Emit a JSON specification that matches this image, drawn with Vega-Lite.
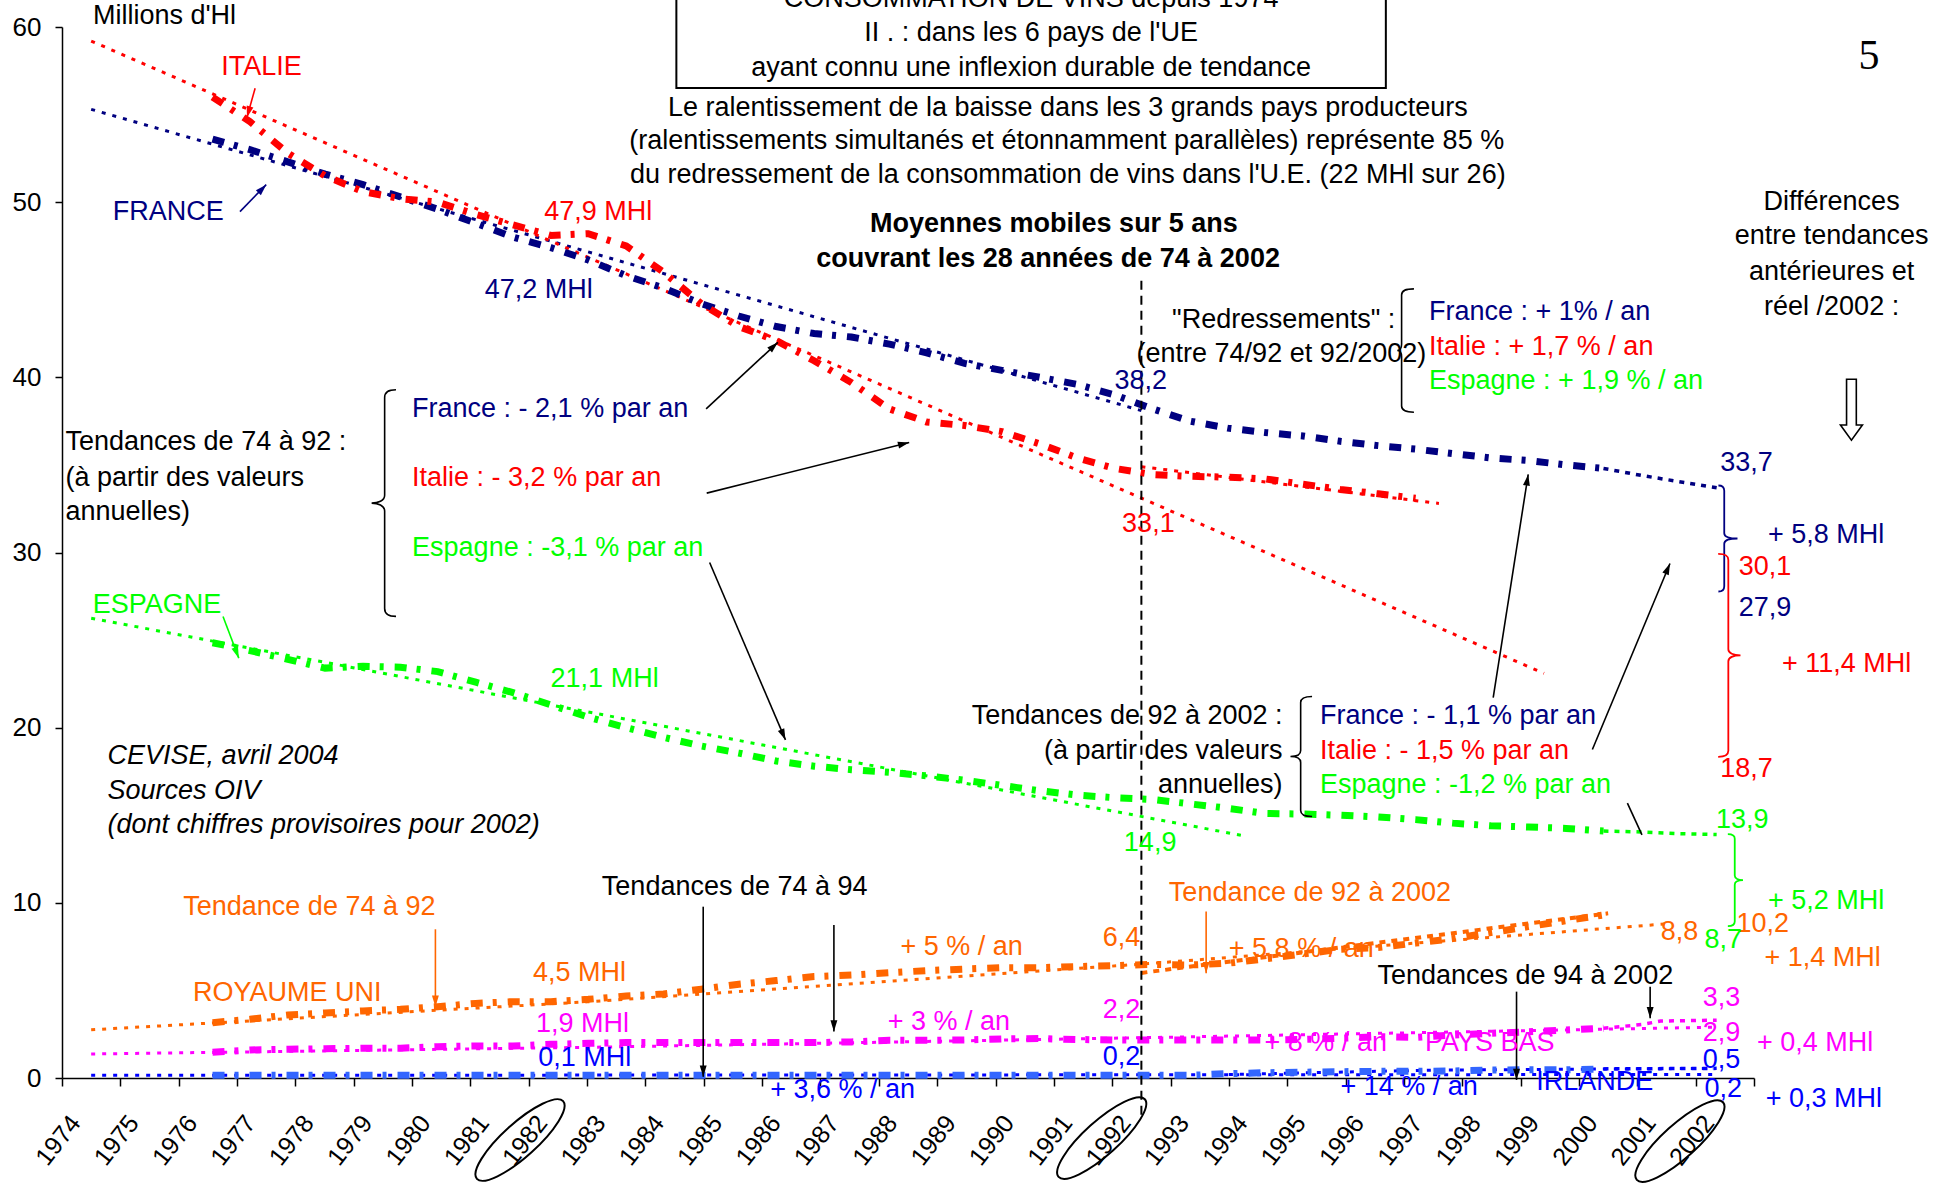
{
"$schema":"https://vega.github.io/schema/vega-lite/v6.json",
"width":1692,"height":1051,
"autosize":{"type":"none"},
"padding":{"left":62,"top":27,"right":189,"bottom":107},
"background":"white",
"config":{"view":{"stroke":null},"font":"Liberation Sans"},
"datasets":{
"ma":[
{"g":"France","t":1976.58,"v":53.6},{"g":"France","t":1977.22,"v":53.0},{"g":"France","t":1977.87,"v":52.3},{"g":"France","t":1978.51,"v":51.6},{"g":"France","t":1979.16,"v":51.0},{"g":"France","t":1979.80,"v":50.3},{"g":"France","t":1980.44,"v":49.6},{"g":"France","t":1981.09,"v":48.8},{"g":"France","t":1981.73,"v":48.0},{"g":"France","t":1982.38,"v":47.4},{"g":"France","t":1983.02,"v":46.7},{"g":"France","t":1983.67,"v":45.8},{"g":"France","t":1984.31,"v":45.1},{"g":"France","t":1984.96,"v":44.2},{"g":"France","t":1985.60,"v":43.5},{"g":"France","t":1986.24,"v":42.9},{"g":"France","t":1986.89,"v":42.5},{"g":"France","t":1987.53,"v":42.3},{"g":"France","t":1988.18,"v":41.9},{"g":"France","t":1988.82,"v":41.4},{"g":"France","t":1989.47,"v":40.8},{"g":"France","t":1990.11,"v":40.4},{"g":"France","t":1990.76,"v":40.0},{"g":"France","t":1991.40,"v":39.6},{"g":"France","t":1992.04,"v":39.0},{"g":"France","t":1992.69,"v":38.2},{"g":"France","t":1993.33,"v":37.5},{"g":"France","t":1993.98,"v":37.1},{"g":"France","t":1994.62,"v":36.85},{"g":"France","t":1995.27,"v":36.65},{"g":"France","t":1995.91,"v":36.35},{"g":"France","t":1996.56,"v":36.1},{"g":"France","t":1997.20,"v":35.9},{"g":"France","t":1997.84,"v":35.65},{"g":"France","t":1998.49,"v":35.4},{"g":"France","t":1999.13,"v":35.25},{"g":"France","t":1999.78,"v":35.0},{"g":"France","t":2000.42,"v":34.8},
{"g":"Italie","t":1976.58,"v":56.0},{"g":"Italie","t":1977.22,"v":54.6},{"g":"Italie","t":1977.87,"v":52.8},{"g":"Italie","t":1978.51,"v":51.5},{"g":"Italie","t":1979.16,"v":50.6},{"g":"Italie","t":1979.80,"v":50.2},{"g":"Italie","t":1980.44,"v":50.0},{"g":"Italie","t":1981.09,"v":49.3},{"g":"Italie","t":1981.73,"v":48.7},{"g":"Italie","t":1982.38,"v":48.1},{"g":"Italie","t":1983.02,"v":48.2},{"g":"Italie","t":1983.67,"v":47.5},{"g":"Italie","t":1984.31,"v":46.0},{"g":"Italie","t":1984.96,"v":44.2},{"g":"Italie","t":1985.60,"v":42.9},{"g":"Italie","t":1986.24,"v":42.1},{"g":"Italie","t":1986.89,"v":40.95},{"g":"Italie","t":1987.53,"v":39.7},{"g":"Italie","t":1988.18,"v":38.2},{"g":"Italie","t":1988.82,"v":37.45},{"g":"Italie","t":1989.47,"v":37.25},{"g":"Italie","t":1990.11,"v":36.9},{"g":"Italie","t":1990.76,"v":36.2},{"g":"Italie","t":1991.40,"v":35.4},{"g":"Italie","t":1992.04,"v":34.8},{"g":"Italie","t":1992.69,"v":34.45},{"g":"Italie","t":1993.33,"v":34.35},{"g":"Italie","t":1993.98,"v":34.3},{"g":"Italie","t":1994.62,"v":34.2},{"g":"Italie","t":1995.27,"v":33.9},{"g":"Italie","t":1995.91,"v":33.6},{"g":"Italie","t":1996.56,"v":33.35},{"g":"Italie","t":1997.20,"v":33.1},
{"g":"Espagne","t":1976.58,"v":24.85},{"g":"Espagne","t":1977.22,"v":24.4},{"g":"Espagne","t":1977.87,"v":23.9},{"g":"Espagne","t":1978.51,"v":23.4},{"g":"Espagne","t":1979.16,"v":23.5},{"g":"Espagne","t":1979.80,"v":23.45},{"g":"Espagne","t":1980.44,"v":23.2},{"g":"Espagne","t":1981.09,"v":22.6},{"g":"Espagne","t":1981.73,"v":22.0},{"g":"Espagne","t":1982.38,"v":21.3},{"g":"Espagne","t":1983.02,"v":20.6},{"g":"Espagne","t":1983.67,"v":20.0},{"g":"Espagne","t":1984.31,"v":19.45},{"g":"Espagne","t":1984.96,"v":18.95},{"g":"Espagne","t":1985.60,"v":18.55},{"g":"Espagne","t":1986.24,"v":18.1},{"g":"Espagne","t":1986.89,"v":17.8},{"g":"Espagne","t":1987.53,"v":17.6},{"g":"Espagne","t":1988.18,"v":17.45},{"g":"Espagne","t":1988.82,"v":17.25},{"g":"Espagne","t":1989.47,"v":17.0},{"g":"Espagne","t":1990.11,"v":16.7},{"g":"Espagne","t":1990.76,"v":16.4},{"g":"Espagne","t":1991.40,"v":16.15},{"g":"Espagne","t":1992.04,"v":16.0},{"g":"Espagne","t":1992.69,"v":15.9},{"g":"Espagne","t":1993.33,"v":15.65},{"g":"Espagne","t":1993.98,"v":15.4},{"g":"Espagne","t":1994.62,"v":15.1},{"g":"Espagne","t":1995.27,"v":15.07},{"g":"Espagne","t":1995.91,"v":15.0},{"g":"Espagne","t":1996.56,"v":14.9},{"g":"Espagne","t":1997.20,"v":14.75},{"g":"Espagne","t":1997.84,"v":14.55},{"g":"Espagne","t":1998.49,"v":14.4},{"g":"Espagne","t":1999.13,"v":14.33},{"g":"Espagne","t":1999.78,"v":14.25},{"g":"Espagne","t":2000.42,"v":14.1},
{"g":"RoyaumeUni","t":1976.58,"v":3.16},{"g":"RoyaumeUni","t":1977.22,"v":3.35},{"g":"RoyaumeUni","t":1977.87,"v":3.6},{"g":"RoyaumeUni","t":1978.51,"v":3.71},{"g":"RoyaumeUni","t":1979.16,"v":3.83},{"g":"RoyaumeUni","t":1979.80,"v":3.92},{"g":"RoyaumeUni","t":1980.44,"v":4.07},{"g":"RoyaumeUni","t":1981.09,"v":4.26},{"g":"RoyaumeUni","t":1981.73,"v":4.36},{"g":"RoyaumeUni","t":1982.38,"v":4.36},{"g":"RoyaumeUni","t":1983.02,"v":4.49},{"g":"RoyaumeUni","t":1983.67,"v":4.68},{"g":"RoyaumeUni","t":1984.31,"v":4.8},{"g":"RoyaumeUni","t":1984.96,"v":5.07},{"g":"RoyaumeUni","t":1985.60,"v":5.35},{"g":"RoyaumeUni","t":1986.24,"v":5.56},{"g":"RoyaumeUni","t":1986.89,"v":5.79},{"g":"RoyaumeUni","t":1987.53,"v":5.88},{"g":"RoyaumeUni","t":1988.18,"v":6.01},{"g":"RoyaumeUni","t":1988.82,"v":6.13},{"g":"RoyaumeUni","t":1989.47,"v":6.22},{"g":"RoyaumeUni","t":1990.11,"v":6.3},{"g":"RoyaumeUni","t":1990.76,"v":6.3},{"g":"RoyaumeUni","t":1991.40,"v":6.36},{"g":"RoyaumeUni","t":1992.04,"v":6.41},{"g":"RoyaumeUni","t":1992.69,"v":6.49},{"g":"RoyaumeUni","t":1993.33,"v":6.45},{"g":"RoyaumeUni","t":1993.98,"v":6.55},{"g":"RoyaumeUni","t":1994.62,"v":6.8},{"g":"RoyaumeUni","t":1995.27,"v":7.08},{"g":"RoyaumeUni","t":1995.91,"v":7.35},{"g":"RoyaumeUni","t":1996.56,"v":7.45},{"g":"RoyaumeUni","t":1997.20,"v":7.7},{"g":"RoyaumeUni","t":1997.84,"v":7.96},{"g":"RoyaumeUni","t":1998.49,"v":8.3},{"g":"RoyaumeUni","t":1999.13,"v":8.64},{"g":"RoyaumeUni","t":1999.78,"v":8.98},{"g":"RoyaumeUni","t":2000.42,"v":9.31},
{"g":"PaysBas","t":1976.58,"v":1.47},{"g":"PaysBas","t":1977.22,"v":1.6},{"g":"PaysBas","t":1977.87,"v":1.64},{"g":"PaysBas","t":1978.51,"v":1.67},{"g":"PaysBas","t":1979.16,"v":1.7},{"g":"PaysBas","t":1979.80,"v":1.7},{"g":"PaysBas","t":1980.44,"v":1.79},{"g":"PaysBas","t":1981.09,"v":1.83},{"g":"PaysBas","t":1981.73,"v":1.83},{"g":"PaysBas","t":1982.38,"v":1.92},{"g":"PaysBas","t":1983.02,"v":1.98},{"g":"PaysBas","t":1983.67,"v":2.02},{"g":"PaysBas","t":1984.31,"v":2.02},{"g":"PaysBas","t":1984.96,"v":2.02},{"g":"PaysBas","t":1985.60,"v":2.02},{"g":"PaysBas","t":1986.24,"v":2.02},{"g":"PaysBas","t":1986.89,"v":2.02},{"g":"PaysBas","t":1987.53,"v":2.06},{"g":"PaysBas","t":1988.18,"v":2.15},{"g":"PaysBas","t":1988.82,"v":2.15},{"g":"PaysBas","t":1989.47,"v":2.17},{"g":"PaysBas","t":1990.11,"v":2.23},{"g":"PaysBas","t":1990.76,"v":2.25},{"g":"PaysBas","t":1991.40,"v":2.2},{"g":"PaysBas","t":1992.04,"v":2.17},{"g":"PaysBas","t":1992.69,"v":2.17},{"g":"PaysBas","t":1993.33,"v":2.17},{"g":"PaysBas","t":1993.98,"v":2.17},{"g":"PaysBas","t":1994.62,"v":2.17},{"g":"PaysBas","t":1995.27,"v":2.2},{"g":"PaysBas","t":1995.91,"v":2.27},{"g":"PaysBas","t":1996.56,"v":2.36},{"g":"PaysBas","t":1997.20,"v":2.32},{"g":"PaysBas","t":1997.84,"v":2.45},{"g":"PaysBas","t":1998.49,"v":2.55},{"g":"PaysBas","t":1999.13,"v":2.64},{"g":"PaysBas","t":1999.78,"v":2.74},{"g":"PaysBas","t":2000.42,"v":2.84},
{"g":"IrlandeMM","t":1976.58,"v":0.15},{"g":"IrlandeMM","t":1977.22,"v":0.15},{"g":"IrlandeMM","t":1977.87,"v":0.15},{"g":"IrlandeMM","t":1978.51,"v":0.15},{"g":"IrlandeMM","t":1979.16,"v":0.15},{"g":"IrlandeMM","t":1979.80,"v":0.15},{"g":"IrlandeMM","t":1980.44,"v":0.15},{"g":"IrlandeMM","t":1981.09,"v":0.15},{"g":"IrlandeMM","t":1981.73,"v":0.15},{"g":"IrlandeMM","t":1982.38,"v":0.15},{"g":"IrlandeMM","t":1983.02,"v":0.15},{"g":"IrlandeMM","t":1983.67,"v":0.15},{"g":"IrlandeMM","t":1984.31,"v":0.15},{"g":"IrlandeMM","t":1984.96,"v":0.15},{"g":"IrlandeMM","t":1985.60,"v":0.15},{"g":"IrlandeMM","t":1986.24,"v":0.15},{"g":"IrlandeMM","t":1986.89,"v":0.15},{"g":"IrlandeMM","t":1987.53,"v":0.15},{"g":"IrlandeMM","t":1988.18,"v":0.15},{"g":"IrlandeMM","t":1988.82,"v":0.15},{"g":"IrlandeMM","t":1989.47,"v":0.15},{"g":"IrlandeMM","t":1990.11,"v":0.15},{"g":"IrlandeMM","t":1990.76,"v":0.15},{"g":"IrlandeMM","t":1991.40,"v":0.15},{"g":"IrlandeMM","t":1992.04,"v":0.15},{"g":"IrlandeMM","t":1992.69,"v":0.15},{"g":"IrlandeMM","t":1993.33,"v":0.15},{"g":"IrlandeMM","t":1993.98,"v":0.25},{"g":"IrlandeMM","t":1994.62,"v":0.3},{"g":"IrlandeMM","t":1995.27,"v":0.33},{"g":"IrlandeMM","t":1995.91,"v":0.36},{"g":"IrlandeMM","t":1996.56,"v":0.38},{"g":"IrlandeMM","t":1997.20,"v":0.38},{"g":"IrlandeMM","t":1997.84,"v":0.4},{"g":"IrlandeMM","t":1998.49,"v":0.45},{"g":"IrlandeMM","t":1999.13,"v":0.47},{"g":"IrlandeMM","t":1999.78,"v":0.47},{"g":"IrlandeMM","t":2000.42,"v":0.52}
],
"tail":[
{"g":"France","t":2000.42,"v":34.8},{"g":"France","t":2001.07,"v":34.4},{"g":"France","t":2001.71,"v":34.05},{"g":"France","t":2002.36,"v":33.7},
{"g":"Espagne","t":2000.42,"v":14.1},{"g":"Espagne","t":2001.07,"v":14.05},{"g":"Espagne","t":2001.71,"v":13.95},{"g":"Espagne","t":2002.36,"v":13.9},
{"g":"PaysBas","t":2000.42,"v":2.84},{"g":"PaysBas","t":2001.07,"v":3.05},{"g":"PaysBas","t":2001.4,"v":3.25},{"g":"PaysBas","t":2002.36,"v":3.3},
{"g":"Irlande","t":2000.42,"v":0.52},{"g":"Irlande","t":2002.36,"v":0.55}
],
"trend":[
{"id":"F74","g":"France","t":1974.5,"v":55.3},{"id":"F74","g":"France","t":1992.5,"v":38.1},
{"id":"I74","g":"Italie","t":1974.5,"v":59.2},{"id":"I74","g":"Italie","t":1999.4,"v":23.1},
{"id":"E74","g":"Espagne","t":1974.5,"v":26.25},{"id":"E74","g":"Espagne","t":1994.3,"v":13.8},
{"id":"U74","g":"RoyaumeUni","t":1974.5,"v":2.75},{"id":"U74","g":"RoyaumeUni","t":1983,"v":4.35},{"id":"U74","g":"RoyaumeUni","t":1992.5,"v":6.5},{"id":"U74","g":"RoyaumeUni","t":2001.5,"v":8.8},
{"id":"N74","g":"PaysBas","t":1974.5,"v":1.37},{"id":"N74","g":"PaysBas","t":1983,"v":1.75},{"id":"N74","g":"PaysBas","t":1992.5,"v":2.3},{"id":"N74","g":"PaysBas","t":2002.3,"v":2.9},
{"id":"R74","g":"Irlande","t":1974.5,"v":0.15},{"id":"R74","g":"Irlande","t":2002.3,"v":0.2},
{"id":"I92","g":"Italie","t":1992.5,"v":34.9},{"id":"I92","g":"Italie","t":1997.6,"v":32.8},
{"id":"R94","g":"Irlande","t":1994,"v":0.2},{"id":"R94","g":"Irlande","t":1997.5,"v":0.45},{"id":"R94","g":"Irlande","t":2002.3,"v":0.55}
],
"trend2":[
{"g":"RoyaumeUni","t":1992.5,"v":6.0},{"g":"RoyaumeUni","t":2000.5,"v":9.4}
],
"arrows":[
{"id":"a","g":"Italie","t":1977.31,"v":56.5,"t2":1977.17,"v2":54.84},
{"id":"b","g":"France","t":1977.05,"v":49.46,"t2":1977.5,"v2":51.0},
{"id":"c","g":"Espagne","t":1976.76,"v":26.35,"t2":1977.03,"v2":23.97},
{"id":"d","g":"Noir","t":1985.04,"v":38.2,"t2":1986.27,"v2":42.0},
{"id":"e","g":"Noir","t":1985.05,"v":33.39,"t2":1988.52,"v2":36.28},
{"id":"f","g":"Noir","t":1985.1,"v":29.43,"t2":1986.4,"v2":19.3},
{"id":"g","g":"Noir","t":1998.53,"v":21.72,"t2":1999.13,"v2":34.46},
{"id":"h","g":"Noir","t":2000.23,"v":18.75,"t2":2001.56,"v2":29.37},
{"id":"down","g":"RoyaumeUni","t":1980.4,"v":8.49,"t2":1980.4,"v2":4.07},
{"id":"down","g":"Noir","t":1984.99,"v":9.78,"t2":1984.99,"v2":0.07},
{"id":"down","g":"Noir","t":1987.23,"v":8.74,"t2":1987.23,"v2":2.65},
{"id":"down","g":"RoyaumeUni","t":1993.61,"v":9.5,"t2":1993.61,"v2":5.98},
{"id":"down","g":"Noir","t":1998.93,"v":4.93,"t2":1998.93,"v2":-0.11},
{"id":"down","g":"Noir","t":2001.22,"v":5.21,"t2":2001.22,"v2":3.41},
{"id":"nohead","g":"Noir","t":2000.83,"v":15.69,"t2":2001.08,"v2":13.88}
],
"tl":[
{"g":"Noir","s":"Millions d'Hl","t":1974.53,"v":60.6},
{"g":"Noir","s":"Tendances de 74 à 92 :","t":1974.06,"v":36.3},
{"g":"Noir","s":"(à partir des valeurs","t":1974.06,"v":34.24},
{"g":"Noir","s":"annuelles)","t":1974.06,"v":32.34},
{"g":"France","s":"France : - 2,1 % par an","t":1980.0,"v":38.2},
{"g":"Italie","s":"Italie : - 3,2 % par an","t":1980.0,"v":34.25},
{"g":"Espagne","s":"Espagne : -3,1 % par an","t":1980.0,"v":30.28},
{"g":"France","s":"France : + 1% / an","t":1997.43,"v":43.73},
{"g":"Italie","s":"Italie : + 1,7 % / an","t":1997.43,"v":41.75},
{"g":"Espagne","s":"Espagne : + 1,9 % / an","t":1997.43,"v":39.77},
{"g":"France","s":"France : - 1,1 % par an","t":1995.56,"v":20.66},
{"g":"Italie","s":"Italie :  - 1,5 % par an","t":1995.56,"v":18.68},
{"g":"Espagne","s":"Espagne : -1,2 % par an","t":1995.56,"v":16.7},
{"g":"France","s":"33,7","t":2002.42,"v":35.1},
{"g":"France","s":"+ 5,8 MHl","t":2003.24,"v":31.0},
{"g":"Italie","s":"30,1","t":2002.74,"v":29.15},
{"g":"France","s":"27,9","t":2002.74,"v":26.82},
{"g":"Italie","s":"+ 11,4 MHl","t":2003.48,"v":23.63},
{"g":"Italie","s":"18,7","t":2002.42,"v":17.62},
{"g":"Espagne","s":"13,9","t":2002.35,"v":14.72},
{"g":"Espagne","s":"+ 5,2 MHl","t":2003.24,"v":10.1},
{"g":"RoyaumeUni","s":"10,2","t":2002.7,"v":8.8},
{"g":"RoyaumeUni","s":"8,8","t":2001.4,"v":8.34},
{"g":"Espagne","s":"8,7","t":2002.15,"v":7.85},
{"g":"RoyaumeUni","s":"+ 1,4 MHl","t":2003.18,"v":6.85},
{"g":"PaysBas","s":"3,3","t":2002.12,"v":4.59},
{"g":"PaysBas","s":"2,9","t":2002.12,"v":2.55},
{"g":"PaysBas","s":"+ 0,4 MHl","t":2003.05,"v":1.98},
{"g":"Irlande","s":"0,5","t":2002.12,"v":1.0},
{"g":"Irlande","s":"0,2","t":2002.15,"v":-0.64},
{"g":"Irlande","s":"+ 0,3 MHl","t":2003.2,"v":-1.2}
],
"tr":[
{"g":"Noir","s":"Tendances de 92 à 2002 :","t":1994.92,"v":20.66},
{"g":"Noir","s":"(à partir des valeurs","t":1994.92,"v":18.68},
{"g":"Noir","s":"annuelles)","t":1994.92,"v":16.7}
],
"tc":[
{"g":"Noir","s":"CONSOMMATION DE VINS depuis 1974","t":1990.61,"v":61.6},
{"g":"Noir","s":"II . : dans les 6 pays de l'UE","t":1990.61,"v":59.66},
{"g":"Noir","s":"ayant connu une inflexion durable de tendance","t":1990.61,"v":57.66},
{"g":"Noir","s":"Le ralentissement de la baisse dans les 3 grands pays producteurs","t":1991.24,"v":55.38},
{"g":"Noir","s":"(ralentissements simultanés et étonnamment parallèles) représente 85 %","t":1991.22,"v":53.47},
{"g":"Noir","s":"du redressement de la consommation de vins dans l'U.E. (22 MHl sur 26)","t":1991.24,"v":51.57},
{"g":"Noir","s":"Différences","t":2004.33,"v":50.03},
{"g":"Noir","s":"entre tendances","t":2004.33,"v":48.05},
{"g":"Noir","s":"antérieures et","t":2004.33,"v":46.0},
{"g":"Noir","s":"réel /2002 :","t":2004.33,"v":44.0},
{"g":"Italie","s":"ITALIE","t":1977.42,"v":57.74},
{"g":"France","s":"FRANCE","t":1975.82,"v":49.46},
{"g":"Espagne","s":"ESPAGNE","t":1975.63,"v":27.03},
{"g":"Italie","s":"47,9 MHl","t":1983.19,"v":49.46},
{"g":"France","s":"47,2 MHl","t":1982.17,"v":45.0},
{"g":"Espagne","s":"21,1 MHl","t":1983.3,"v":22.79},
{"g":"Noir","s":"\"Redressements\" :","t":1994.94,"v":43.3},
{"g":"Noir","s":"(entre 74/92 et 92/2002)","t":1994.9,"v":41.33},
{"g":"France","s":"38,2","t":1992.49,"v":39.77},
{"g":"Italie","s":"33,1","t":1992.62,"v":31.63},
{"g":"Espagne","s":"14,9","t":1992.65,"v":13.44},
{"g":"RoyaumeUni","s":"6,4","t":1992.16,"v":8.0},
{"g":"PaysBas","s":"2,2","t":1992.16,"v":3.88},
{"g":"Irlande","s":"0,2","t":1992.16,"v":1.2},
{"g":"RoyaumeUni","s":"Tendance de 74 à 92","t":1978.24,"v":9.77},
{"g":"RoyaumeUni","s":"ROYAUME UNI","t":1977.86,"v":4.88},
{"g":"RoyaumeUni","s":"4,5 MHl","t":1982.87,"v":6.0},
{"g":"PaysBas","s":"1,9 MHl","t":1982.92,"v":3.1},
{"g":"Irlande","s":"0,1 MHl","t":1982.96,"v":1.14},
{"g":"Noir","s":"Tendances de 74 à 94","t":1985.53,"v":10.89},
{"g":"RoyaumeUni","s":"+ 5 % / an","t":1989.42,"v":7.5},
{"g":"PaysBas","s":"+ 3 % / an","t":1989.2,"v":3.18},
{"g":"Irlande","s":"+ 3,6 % / an","t":1987.38,"v":-0.71},
{"g":"RoyaumeUni","s":"Tendance de 92 à 2002","t":1995.39,"v":10.54},
{"g":"RoyaumeUni","s":"+ 5,8 % / an","t":1995.24,"v":7.36},
{"g":"Noir","s":"Tendances de 94 à 2002","t":1999.08,"v":5.8},
{"g":"PaysBas","s":"+ 8 % / an","t":1995.66,"v":1.98},
{"g":"PaysBas","s":"PAYS BAS","t":1998.47,"v":1.98},
{"g":"Irlande","s":"+ 14 % / an","t":1997.09,"v":-0.5},
{"g":"Irlande","s":"IRLANDE","t":2000.27,"v":-0.22}
],
"tb":[
{"g":"Noir","s":"Moyennes mobiles sur 5 ans","t":1991.0,"v":48.75},
{"g":"Noir","s":"couvrant les 28 années de 74 à 2002","t":1990.9,"v":46.77}
],
"ti":[
{"g":"Noir","s":"CEVISE, avril 2004","t":1974.78,"v":18.39},
{"g":"Noir","s":"Sources OIV","t":1974.78,"v":16.41},
{"g":"Noir","s":"(dont chiffres provisoires pour 2002)","t":1974.78,"v":14.43}
]
},
"layer":[
{"data":{"name":"trend"},
 "mark":{"type":"line","strokeWidth":3,"strokeDash":[4,7],"strokeCap":"butt"},
 "encoding":{
  "x":{"field":"t","type":"quantitative","scale":{"domain":[1974,2003],"nice":false,"zero":false},
   "axis":{"values":[1974,1975,1976,1977,1978,1979,1980,1981,1982,1983,1984,1985,1986,1987,1988,1989,1990,1991,1992,1993,1994,1995,1996,1997,1998,1999,2000,2001,2002,2003],
    "format":"d","labelExpr":"datum.value > 2002 ? '' : datum.label","labelAngle":-52,"labelAlign":"right","labelBaseline":"middle",
    "labelPadding":32,"labelOffset":13,"labelFontSize":25,"labelFont":"Liberation Sans","labelColor":"black","labelFlush":false,"labelOverlap":false,"labelBound":false,
    "tickSize":8,"tickColor":"black","tickWidth":1.5,"domainColor":"black","domainWidth":1.5,"title":null,"grid":false}},
  "y":{"field":"v","type":"quantitative","scale":{"domain":[0,60],"nice":false,"zero":false},
   "axis":{"values":[0,10,20,30,40,50,60],"labelFontSize":26,"labelFont":"Liberation Sans","labelColor":"black","labelPadding":14,"tickSize":7,"tickColor":"black","tickWidth":1.5,"domainColor":"black","domainWidth":1.5,"title":null,"grid":false,"labelFlush":false}},
  "color":{"field":"g","type":"nominal","scale":{"domain":["France","Italie","Espagne","RoyaumeUni","PaysBas","Irlande","IrlandeMM","Noir"],"range":["#000080","#FF0000","#00FF00","#FF6600","#FF00FF","#0000FF","#3366FF","#000000"]},"legend":null},
  "detail":{"field":"id","type":"nominal"}}},
{"data":{"name":"trend2"},
 "mark":{"type":"line","strokeWidth":4,"strokeDash":[6,6],"strokeCap":"butt"},
 "encoding":{
  "x":{"field":"t","type":"quantitative"},
  "y":{"field":"v","type":"quantitative"},
  "color":{"field":"g","type":"nominal","legend":null}}},
{"data":{"name":"ma"},
 "mark":{"type":"line","strokeWidth":7,"strokeDash":[12,10,4,11],"strokeCap":"butt"},
 "encoding":{
  "x":{"field":"t","type":"quantitative"},
  "y":{"field":"v","type":"quantitative"},
  "color":{"field":"g","type":"nominal","legend":null}}},
{"data":{"name":"tail"},
 "mark":{"type":"line","strokeWidth":3.5,"strokeDash":[5,6],"strokeCap":"butt"},
 "encoding":{
  "x":{"field":"t","type":"quantitative"},
  "y":{"field":"v","type":"quantitative"},
  "color":{"field":"g","type":"nominal","legend":null}}},
{"data":{"values":[{"t":1992.5,"v":-2.1,"v2":45.6}]},
 "mark":{"type":"rule","color":"black","strokeWidth":2,"strokeDash":[9,6]},
 "encoding":{
  "x":{"field":"t","type":"quantitative"},
  "y":{"field":"v","type":"quantitative"},
  "y2":{"field":"v2"}}},
{"data":{"values":[{"t":1984.53,"t2":1996.69,"v":56.52,"v2":63}]},
 "mark":{"type":"rect","fill":"transparent","stroke":"black","strokeWidth":2},
 "encoding":{
  "x":{"field":"t","type":"quantitative"},
  "x2":{"field":"t2"},
  "y":{"field":"v","type":"quantitative"},
  "y2":{"field":"v2"}}},
{"data":{"name":"arrows"},
 "mark":{"type":"rule","strokeWidth":1.6},
 "encoding":{
  "x":{"field":"t","type":"quantitative"},
  "y":{"field":"v","type":"quantitative"},
  "x2":{"field":"t2"},"y2":{"field":"v2"},
  "color":{"field":"g","type":"nominal","legend":null}}},
{"data":{"name":"arrows"},"transform":[{"filter":"datum.id == 'down'"}],
 "mark":{"type":"point","shape":"M0,0L0.4,1.3L-0.4,1.3Z","filled":true,"opacity":1,"size":300,"angle":180},
 "encoding":{"x":{"field":"t2","type":"quantitative"},"y":{"field":"v2","type":"quantitative"},"color":{"field":"g","type":"nominal","legend":null}}},
{"data":{"name":"arrows"},"transform":[{"filter":"datum.id == 'a'"}],
 "mark":{"type":"point","shape":"M0,0L0.4,1.3L-0.4,1.3Z","filled":true,"opacity":1,"size":300,"angle":196},
 "encoding":{"x":{"field":"t2","type":"quantitative"},"y":{"field":"v2","type":"quantitative"},"color":{"field":"g","type":"nominal","legend":null}}},
{"data":{"name":"arrows"},"transform":[{"filter":"datum.id == 'b'"}],
 "mark":{"type":"point","shape":"M0,0L0.4,1.3L-0.4,1.3Z","filled":true,"opacity":1,"size":300,"angle":44},
 "encoding":{"x":{"field":"t2","type":"quantitative"},"y":{"field":"v2","type":"quantitative"},"color":{"field":"g","type":"nominal","legend":null}}},
{"data":{"name":"arrows"},"transform":[{"filter":"datum.id == 'c'"}],
 "mark":{"type":"point","shape":"M0,0L0.4,1.3L-0.4,1.3Z","filled":true,"opacity":1,"size":300,"angle":159},
 "encoding":{"x":{"field":"t2","type":"quantitative"},"y":{"field":"v2","type":"quantitative"},"color":{"field":"g","type":"nominal","legend":null}}},
{"data":{"name":"arrows"},"transform":[{"filter":"datum.id == 'd'"}],
 "mark":{"type":"point","shape":"M0,0L0.4,1.3L-0.4,1.3Z","filled":true,"opacity":1,"size":300,"angle":47},
 "encoding":{"x":{"field":"t2","type":"quantitative"},"y":{"field":"v2","type":"quantitative"},"color":{"field":"g","type":"nominal","legend":null}}},
{"data":{"name":"arrows"},"transform":[{"filter":"datum.id == 'e'"}],
 "mark":{"type":"point","shape":"M0,0L0.4,1.3L-0.4,1.3Z","filled":true,"opacity":1,"size":300,"angle":76},
 "encoding":{"x":{"field":"t2","type":"quantitative"},"y":{"field":"v2","type":"quantitative"},"color":{"field":"g","type":"nominal","legend":null}}},
{"data":{"name":"arrows"},"transform":[{"filter":"datum.id == 'f'"}],
 "mark":{"type":"point","shape":"M0,0L0.4,1.3L-0.4,1.3Z","filled":true,"opacity":1,"size":300,"angle":157},
 "encoding":{"x":{"field":"t2","type":"quantitative"},"y":{"field":"v2","type":"quantitative"},"color":{"field":"g","type":"nominal","legend":null}}},
{"data":{"name":"arrows"},"transform":[{"filter":"datum.id == 'g'"}],
 "mark":{"type":"point","shape":"M0,0L0.4,1.3L-0.4,1.3Z","filled":true,"opacity":1,"size":300,"angle":9},
 "encoding":{"x":{"field":"t2","type":"quantitative"},"y":{"field":"v2","type":"quantitative"},"color":{"field":"g","type":"nominal","legend":null}}},
{"data":{"name":"arrows"},"transform":[{"filter":"datum.id == 'h'"}],
 "mark":{"type":"point","shape":"M0,0L0.4,1.3L-0.4,1.3Z","filled":true,"opacity":1,"size":300,"angle":23},
 "encoding":{"x":{"field":"t2","type":"quantitative"},"y":{"field":"v2","type":"quantitative"},"color":{"field":"g","type":"nominal","legend":null}}},
{"data":{"values":[{"t":1979.53,"v":32.82}]},
 "mark":{"type":"point","shape":"M0.1,-1C0.03,-1 0,-0.98 0,-0.93L0,-0.07C0,-0.02 -0.06,0 -0.115,0C-0.06,0 0,0.02 0,0.07L0,0.93C0,0.98 0.03,1 0.1,1","filled":false,"size":51347,"color":"black","strokeWidth":1.6,"opacity":1},
 "encoding":{"x":{"field":"t","type":"quantitative"},"y":{"field":"v","type":"quantitative"}}},
{"data":{"values":[{"t":1996.96,"v":41.53}]},
 "mark":{"type":"point","shape":"M0.2,-1C0.06,-1 0,-0.97 0,-0.9L0,-0.1C0,-0.03 -0.03,0 -0.07,0C-0.03,0 0,0.03 0,0.1L0,0.9C0,0.97 0.06,1 0.2,1","filled":false,"size":15228,"color":"black","strokeWidth":1.6,"opacity":1},
 "encoding":{"x":{"field":"t","type":"quantitative"},"y":{"field":"v","type":"quantitative"}}},
{"data":{"values":[{"t":1995.23,"v":18.35}]},
 "mark":{"type":"point","shape":"M0.19,-1C0.06,-1 0,-0.97 0,-0.9L0,-0.1C0,-0.03 -0.07,0 -0.17,0C-0.07,0 0,0.03 0,0.1L0,0.9C0,0.97 0.06,1 0.19,1","filled":false,"size":14400,"color":"black","strokeWidth":1.6,"opacity":1},
 "encoding":{"x":{"field":"t","type":"quantitative"},"y":{"field":"v","type":"quantitative"}}},
{"data":{"values":[{"t":2002.49,"v":30.8}]},
 "mark":{"type":"point","shape":"M-0.11,-1C-0.04,-1 0,-0.97 0,-0.9L0,-0.1C0,-0.03 0.1,0 0.25,0C0.1,0 0,0.03 0,0.1L0,0.9C0,0.97 -0.04,1 -0.11,1","filled":false,"size":11236,"color":"#000080","strokeWidth":1.8,"opacity":1},
 "encoding":{"x":{"field":"t","type":"quantitative"},"y":{"field":"v","type":"quantitative"}}},
{"data":{"values":[{"t":2002.56,"v":24.13}]},
 "mark":{"type":"point","shape":"M-0.1,-1C-0.03,-1 0,-0.98 0,-0.94L0,-0.06C0,-0.02 0.05,0 0.12,0C0.05,0 0,0.02 0,0.06L0,0.94C0,0.98 -0.03,1 -0.1,1","filled":false,"size":41209,"color":"#FF0000","strokeWidth":1.8,"opacity":1},
 "encoding":{"x":{"field":"t","type":"quantitative"},"y":{"field":"v","type":"quantitative"}}},
{"data":{"values":[{"t":2002.67,"v":11.3}]},
 "mark":{"type":"point","shape":"M-0.15,-1C-0.05,-1 0,-0.97 0,-0.9L0,-0.1C0,-0.03 0.08,0 0.18,0C0.08,0 0,0.03 0,0.1L0,0.9C0,0.97 -0.05,1 -0.15,1","filled":false,"size":8464,"color":"#00FF00","strokeWidth":1.8,"opacity":1},
 "encoding":{"x":{"field":"t","type":"quantitative"},"y":{"field":"v","type":"quantitative"}}},
{"data":{"values":[{"t":1981.85,"v":-3.54},{"t":1991.82,"v":-3.43},{"t":2001.73,"v":-3.6}]},
 "mark":{"type":"point","shape":"M1,0C1,0.16 0.552,0.29 0,0.29C-0.552,0.29 -1,0.16 -1,0C-1,-0.16 -0.552,-0.29 0,-0.29C0.552,-0.29 1,-0.16 1,0Z","filled":false,"size":13456,"angle":-42,"color":"black","strokeWidth":2,"opacity":1},
 "encoding":{"x":{"field":"t","type":"quantitative"},"y":{"field":"v","type":"quantitative"}}},
{"data":{"values":[{"t":2004.67,"v":38.15}]},
 "mark":{"type":"point","shape":"M-0.16,-1L0.16,-1L0.16,0.5L0.36,0.5L0,1L-0.36,0.5L-0.16,0.5Z","filled":false,"size":3721,"color":"black","strokeWidth":1.6,"opacity":1},
 "encoding":{"x":{"field":"t","type":"quantitative"},"y":{"field":"v","type":"quantitative"}}},
{"data":{"name":"tl"},
 "mark":{"type":"text","align":"left","baseline":"middle","fontSize":27,"font":"Liberation Sans"},
 "encoding":{"x":{"field":"t","type":"quantitative"},"y":{"field":"v","type":"quantitative"},
  "text":{"field":"s"},"color":{"field":"g","type":"nominal","legend":null}}},
{"data":{"name":"tr"},
 "mark":{"type":"text","align":"right","baseline":"middle","fontSize":27,"font":"Liberation Sans"},
 "encoding":{"x":{"field":"t","type":"quantitative"},"y":{"field":"v","type":"quantitative"},
  "text":{"field":"s"},"color":{"field":"g","type":"nominal","legend":null}}},
{"data":{"name":"tc"},
 "mark":{"type":"text","align":"center","baseline":"middle","fontSize":27,"font":"Liberation Sans"},
 "encoding":{"x":{"field":"t","type":"quantitative"},"y":{"field":"v","type":"quantitative"},
  "text":{"field":"s"},"color":{"field":"g","type":"nominal","legend":null}}},
{"data":{"name":"tb"},
 "mark":{"type":"text","align":"center","baseline":"middle","fontSize":27,"fontWeight":"bold","font":"Liberation Sans"},
 "encoding":{"x":{"field":"t","type":"quantitative"},"y":{"field":"v","type":"quantitative"},
  "text":{"field":"s"},"color":{"field":"g","type":"nominal","legend":null}}},
{"data":{"name":"ti"},
 "mark":{"type":"text","align":"left","baseline":"middle","fontSize":27,"fontStyle":"italic","font":"Liberation Sans"},
 "encoding":{"x":{"field":"t","type":"quantitative"},"y":{"field":"v","type":"quantitative"},
  "text":{"field":"s"},"color":{"field":"g","type":"nominal","legend":null}}},
{"data":{"values":[{"s":"5","t":2004.97,"v":58.37}]},
 "mark":{"type":"text","align":"center","baseline":"middle","fontSize":42,"font":"Liberation Serif","color":"black"},
 "encoding":{"x":{"field":"t","type":"quantitative"},"y":{"field":"v","type":"quantitative"},"text":{"field":"s"}}}
]
}
